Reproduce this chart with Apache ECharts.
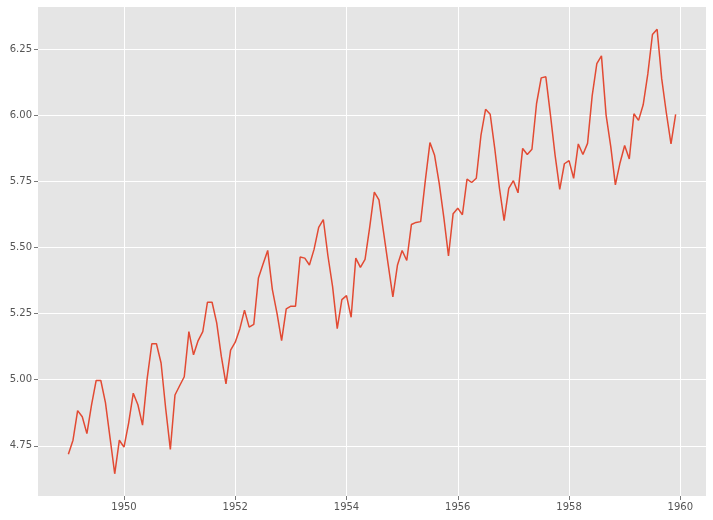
<!DOCTYPE html>
<html>
<head>
<meta charset="utf-8">
<script src="https://cdn.jsdelivr.net/npm/echarts@6/dist/echarts.min.js"></script>
<style>
html, body { margin: 0; padding: 0; background: #fff; }
#chart { width: 713px; height: 520px; }
</style>
</head>
<body>
<div id="chart"></div>
<script>
// monthly log values, Jan 1949 .. Dec 1959
var startYear = 1949
var logValues = [
  4.718, 4.771, 4.883, 4.860, 4.796, 4.905, 4.997, 4.997, 4.913, 4.779, 4.644, 4.771,
  4.745, 4.836, 4.949, 4.905, 4.828, 5.004, 5.136, 5.136, 5.063, 4.890, 4.736, 4.942,
  4.977, 5.011, 5.182, 5.094, 5.148, 5.182, 5.293, 5.293, 5.215, 5.088, 4.984, 5.112,
  5.142, 5.193, 5.263, 5.199, 5.209, 5.385, 5.438, 5.489, 5.342, 5.252, 5.148, 5.268,
  5.278, 5.278, 5.464, 5.460, 5.434, 5.493, 5.576, 5.606, 5.468, 5.352, 5.193, 5.303,
  5.318, 5.236, 5.460, 5.425, 5.455, 5.576, 5.710, 5.680, 5.557, 5.434, 5.313, 5.434,
  5.489, 5.451, 5.587, 5.595, 5.598, 5.753, 5.897, 5.849, 5.743, 5.613, 5.468, 5.628,
  5.649, 5.624, 5.759, 5.746, 5.762, 5.924, 6.023, 6.004, 5.872, 5.724, 5.602, 5.724,
  5.753, 5.707, 5.875, 5.852, 5.872, 6.045, 6.142, 6.146, 6.001, 5.849, 5.720, 5.817,
  5.829, 5.762, 5.892, 5.852, 5.894, 6.075, 6.196, 6.225, 6.001, 5.883, 5.737, 5.820,
  5.886, 5.835, 6.006, 5.981, 6.040, 6.157, 6.306, 6.326, 6.138, 6.009, 5.892, 6.004
]
var xTicks = [1950, 1952, 1954, 1956, 1958, 1960]
var yTicks = [4.75, 5.00, 5.25, 5.50, 5.75, 6.00, 6.25]

var points = logValues.map(function (v, i) {
  return [startYear + i / 12, v]
})

var chart = echarts.init(document.getElementById('chart'))
var labelStyle = { color: '#555555', fontSize: 10, fontFamily: 'DejaVu Sans' }
chart.setOption({
  animation: false,
  grid: { left: 38, top: 7, right: 7, bottom: 24, show: true, backgroundColor: '#E5E5E5', borderWidth: 0 },
  xAxis: {
    type: 'value',
    min: function (e) { var p = (e.max - e.min) * 0.05; return e.min - p },
    max: function (e) { var p = (e.max - e.min) * 0.05; return e.max + p },
    axisLine: { show: false },
    axisTick: { show: true, length: 4, lineStyle: { color: '#555555', width: 0.8 }, customValues: xTicks },
    axisLabel: Object.assign({ margin: 6, customValues: xTicks, formatter: function (v) { return String(Math.round(v)) } }, labelStyle),
    splitLine: { show: false }
  },
  yAxis: {
    type: 'value',
    min: function (e) { var p = (e.max - e.min) * 0.05; return e.min - p },
    max: function (e) { var p = (e.max - e.min) * 0.05; return e.max + p },
    axisLine: { show: false },
    axisTick: { show: true, length: 4, lineStyle: { color: '#555555', width: 0.8 }, customValues: yTicks },
    axisLabel: Object.assign({ margin: 6, customValues: yTicks, formatter: function (v) { return v.toFixed(2) } }, labelStyle),
    splitLine: { show: false }
  },
  series: [
    {
      type: 'line',
      data: points,
      showSymbol: false,
      lineStyle: { color: '#E24A33', width: 1.5 },
      z: 3,
      markLine: {
        silent: true,
        symbol: 'none',
        label: { show: false },
        lineStyle: { color: '#ffffff', width: 1, type: 'solid' },
        z: 1,
        data: xTicks.map(function (t) { return { xAxis: t } })
          .concat(yTicks.map(function (t) { return { yAxis: t } }))
      }
    }
  ]
})
</script>
</body>
</html>
